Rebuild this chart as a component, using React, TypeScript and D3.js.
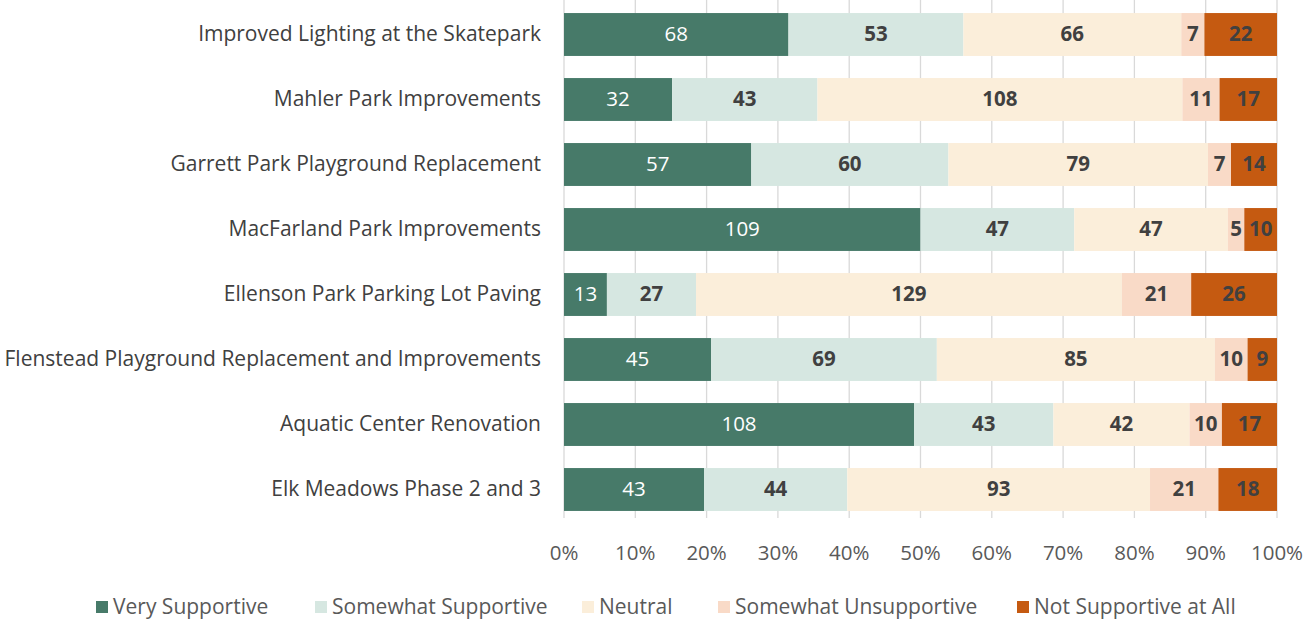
import React, { useEffect, useRef } from 'react';
import * as d3 from 'd3';

const categories = [
  'Improved Lighting at the Skatepark',
  'Mahler Park Improvements',
  'Garrett Park Playground Replacement',
  'MacFarland Park Improvements',
  'Ellenson Park Parking Lot Paving',
  'Flenstead Playground Replacement and Improvements',
  'Aquatic Center Renovation',
  'Elk Meadows Phase 2 and 3',
];

const seriesNames = [
  'Very Supportive',
  'Somewhat Supportive',
  'Neutral',
  'Somewhat Unsupportive',
  'Not Supportive at All',
];

const verySupportive = [68, 32, 57, 109, 13, 45, 108, 43];
const somewhatSupportive = [53, 43, 60, 47, 27, 69, 43, 44];
const neutral = [66, 108, 79, 47, 129, 85, 42, 93];
const somewhatUnsupportive = [7, 11, 7, 5, 21, 10, 10, 21];
const notSupportive = [22, 17, 14, 10, 26, 9, 17, 18];

const ticks = [0, 0.1, 0.2, 0.3, 0.4, 0.5, 0.6, 0.7, 0.8, 0.9, 1];

const colors = ['#477A69', '#D6E7E1', '#FBEEDA', '#F9DAC7', '#C55A11'];
const labelColors = ['#ffffff', '#404040', '#404040', '#404040', '#404040'];

const App = () => {
  const ref = useRef<SVGSVGElement>(null);

  useEffect(() => {
    const svg = d3.select(ref.current);
    svg.selectAll('*').remove();

    const font = '"Open Sans", Lato, sans-serif';
    const values = [verySupportive, somewhatSupportive, neutral, somewhatUnsupportive, notSupportive];
    const rows = categories.map((c, i) => {
      const row: any = { category: c };
      seriesNames.forEach((s, j) => (row[s] = values[j][i]));
      return row;
    });

    const stack = d3.stack<any>().keys(seriesNames).offset(d3.stackOffsetExpand);
    const stacked = stack(rows);

    const x = d3.scaleLinear().domain([0, 1]).range([564, 1277]);
    const y = d3.scaleBand().domain(categories).range([2, 522]).paddingInner(0.34).paddingOuter(0.17);

    // gridlines
    svg.append('g')
      .selectAll('line')
      .data(ticks)
      .join('line')
      .attr('x1', (d) => x(d))
      .attr('x2', (d) => x(d))
      .attr('y1', 0)
      .attr('y2', 518)
      .attr('stroke', '#d9d9d9')
      .attr('stroke-width', 1.3);

    // bars
    const layers = svg.append('g')
      .selectAll('g')
      .data(stacked)
      .join('g')
      .attr('fill', (d, i) => colors[i]);

    layers.selectAll('rect')
      .data((d) => d.map((p) => ({ p, key: d.key })))
      .join('rect')
      .attr('x', (d) => x(d.p[0]))
      .attr('width', (d) => x(d.p[1]) - x(d.p[0]))
      .attr('y', (d) => y(d.p.data.category)!)
      .attr('height', y.bandwidth());

    // value labels
    stacked.forEach((layer, i) => {
      svg.append('g')
        .selectAll('text')
        .data(layer)
        .join('text')
        .attr('x', (d) => (x(d[0]) + x(d[1])) / 2)
        .attr('y', (d) => y(d.data.category)! + y.bandwidth() / 2)
        .attr('dy', '0.33em')
        .attr('text-anchor', 'middle')
        .attr('font-family', font)
        .attr('font-size', 20.5)
        .attr('font-weight', i === 0 ? 'normal' : 'bold')
        .attr('fill', labelColors[i])
        .text((d) => d.data[layer.key]);
    });

    // category labels
    svg.append('g')
      .selectAll('text')
      .data(categories)
      .join('text')
      .attr('x', 541)
      .attr('y', (d) => y(d)! + y.bandwidth() / 2)
      .attr('dy', '0.33em')
      .attr('text-anchor', 'end')
      .attr('font-family', font)
      .attr('font-size', 21)
      .attr('fill', '#404040')
      .text((d) => d);

    // x tick labels
    svg.append('g')
      .selectAll('text')
      .data(ticks)
      .join('text')
      .attr('x', (d) => x(d))
      .attr('y', 553)
      .attr('dy', '0.33em')
      .attr('text-anchor', 'middle')
      .attr('font-family', font)
      .attr('font-size', 20.5)
      .attr('fill', '#595959')
      .text((d) => d3.format('.0%')(d));

    // legend
    const legendX = [96, 315, 582, 718, 1017];
    const legend = svg.append('g')
      .selectAll('g')
      .data(seriesNames)
      .join('g')
      .attr('transform', (d, i) => `translate(${legendX[i]},607)`);
    legend.append('rect')
      .attr('x', 0)
      .attr('y', -6)
      .attr('width', 12)
      .attr('height', 12)
      .attr('fill', (d, i) => colors[i]);
    legend.append('text')
      .attr('x', 17)
      .attr('dy', '0.33em')
      .attr('font-family', font)
      .attr('font-size', 21)
      .attr('fill', '#595959')
      .text((d) => d);
  }, []);

  return (
    <svg
      ref={ref}
      width={1306}
      height={619}
      style={{ position: 'absolute', left: 0, top: 0, background: '#fff' }}
    />
  );
};

export default App;
